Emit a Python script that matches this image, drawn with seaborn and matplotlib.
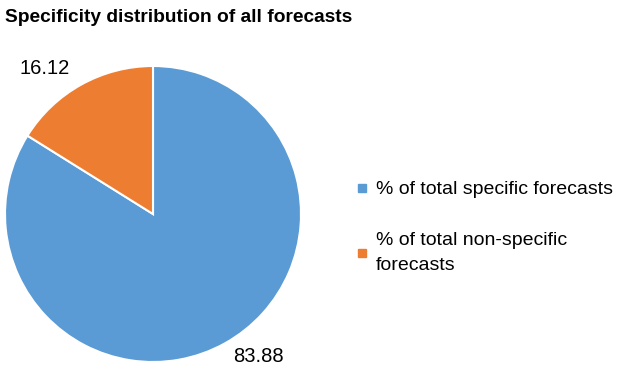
import matplotlib
matplotlib.use("Agg")
import matplotlib.pyplot as plt
from matplotlib.lines import Line2D
import seaborn as sns

sns.set_theme(style="white")
plt.rcParams['font.family'] = ['Liberation Sans', 'DejaVu Sans']
plt.rcParams['text.color'] = 'black'

title = "Specificity distribution of all forecasts"
categories = ["% of total specific forecasts", "% of total non-specific\nforecasts"]
values = [83.88, 16.12]
colors = ["#5B9BD5", "#ED7D31"]
label_pos = [(0.71, -0.96), (-0.73, 0.98)]

fig = plt.figure(figsize=(6.23, 3.76), dpi=100)
fig.patch.set_facecolor("white")
ax = fig.add_axes([5/623, 14/376, 296/623, 296/376])
ax.pie(values, colors=colors, startangle=90, counterclock=False,
       wedgeprops=dict(edgecolor="white", linewidth=1.5))
ax.set_xlim(-1, 1)
ax.set_ylim(-1, 1)
ax.set_aspect("equal")
for v, (x, y) in zip(values, label_pos):
    ax.text(x, y, f"{v:.2f}", ha="center", va="center", fontsize=14.5, color="black", clip_on=False)

fig.text(5/623, 1 - 18/376, title, fontsize=13.8, fontweight="bold", ha="left", va="center",
         color="black")

handles = [Line2D([0], [0], marker="s", linestyle="none", markersize=6,
                  markerfacecolor=c, markeredgecolor=c) for c in colors]
leg = fig.legend(handles, categories, loc="upper left", bbox_to_anchor=(348/623, 1 - 173/376),
                 frameon=False, fontsize=14, handlelength=0.6, handletextpad=0.45,
                 labelspacing=1.75, borderaxespad=0)
for t in leg.get_texts():
    t.set_color("black")
    t.set_linespacing(1.6)

fig.savefig("out.png", dpi=100, facecolor="white")
